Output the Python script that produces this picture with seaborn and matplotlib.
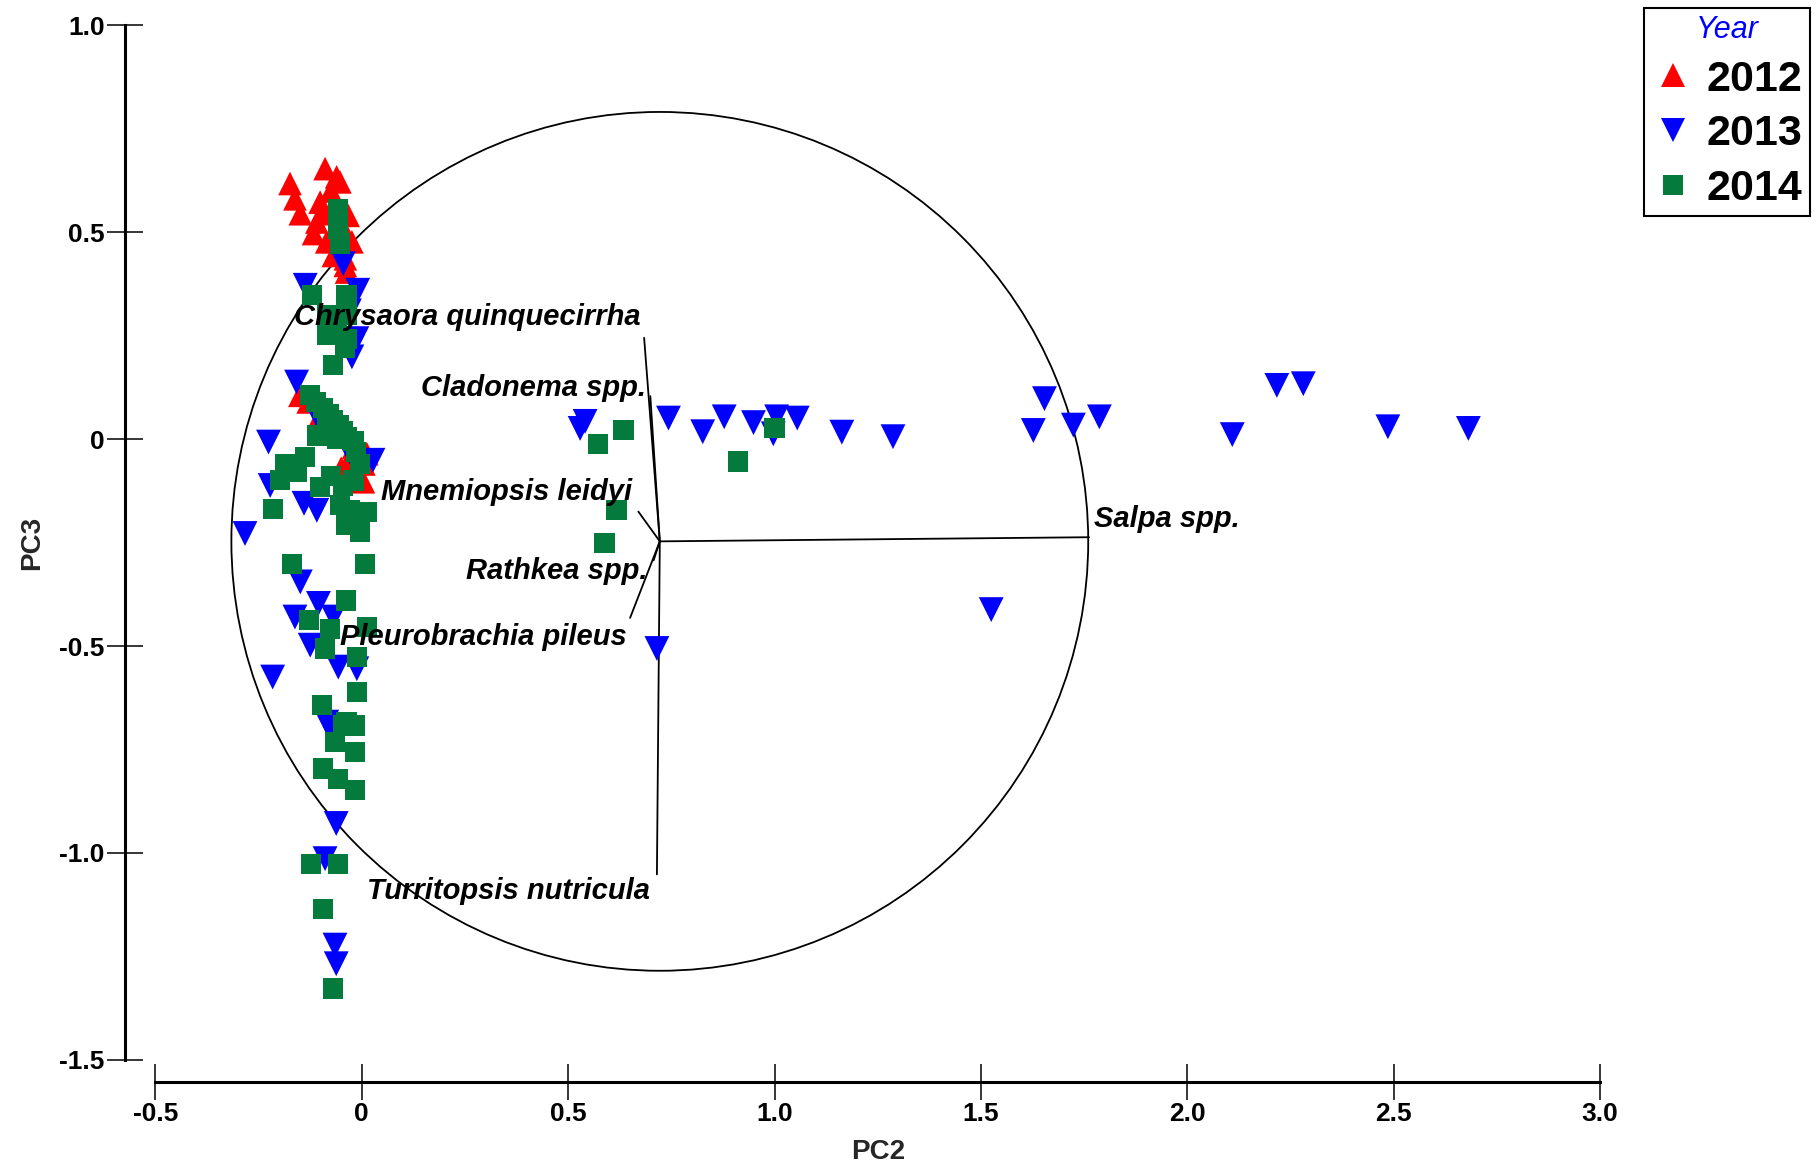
import matplotlib
matplotlib.use("Agg")
import matplotlib.pyplot as plt
from matplotlib.lines import Line2D
from matplotlib.patches import Circle
import pandas as pd
import seaborn as sns

# PCA sample scores (PC2, PC3) by sampling year
pc2_2012 = [-0.174, -0.162, -0.149, -0.089, -0.061, -0.053, -0.101, -0.109, -0.117,
            -0.085, -0.045, -0.033, -0.069, -0.040, -0.037, -0.024, -0.075, -0.095,
            -0.040, -0.150, -0.130, -0.100, -0.070, -0.020, 0.012, 0.004, -0.050,
            -0.030, 0.005]
pc3_2012 = [0.618, 0.581, 0.545, 0.654, 0.634, 0.622, 0.573, 0.525, 0.497,
            0.477, 0.509, 0.541, 0.444, 0.436, 0.404, 0.477, 0.600, 0.545,
            0.420, 0.106, 0.090, 0.060, 0.030, -0.020, -0.035, -0.103, -0.070,
            -0.050, -0.060]

pc2_2013 = [-0.045, -0.137, -0.024, -0.012, -0.158, -0.226, -0.222, -0.109, -0.283,
            -0.149, -0.105, -0.162, -0.069, -0.125, -0.057, -0.012, -0.216, -0.085,
            -0.077, -0.062, -0.089, -0.065, -0.062, -0.010, -0.030, -0.100, -0.030,
            -0.140, 0.027,
            0.529, 0.541, 0.743, 0.826, 0.878, 0.949, 1.005, 0.997, 1.055, 1.163,
            1.287, 1.654, 1.627, 1.724, 1.787, 2.109, 2.217, 2.281, 2.486, 2.681,
            1.525, 0.715]
pc3_2013 = [0.424, 0.372, 0.199, 0.243, 0.138, -0.007, -0.112, -0.172, -0.228,
            -0.345, -0.397, -0.430, -0.430, -0.498, -0.551, -0.555, -0.575, -0.684,
            -0.699, -0.929, -1.014, -1.223, -1.268, 0.360, 0.310, 0.040, -0.030,
            -0.155, -0.051,
            0.026, 0.043, 0.051, 0.018, 0.054, 0.040, 0.054, 0.013, 0.051, 0.017,
            0.006, 0.098, 0.021, 0.034, 0.054, 0.011, 0.130, 0.134, 0.030, 0.026,
            -0.412, -0.506]

pc2_2014 = [-0.057, -0.057, -0.053, -0.121, -0.037, -0.085, -0.037, -0.085, -0.037,
            -0.069, -0.060, -0.040,
            -0.125, -0.110, -0.095, -0.080, -0.070, -0.055, -0.045, -0.035, -0.020,
            -0.085, -0.060, -0.109, -0.045, -0.015,
            -0.186, -0.137, -0.198, -0.216, -0.158, -0.101, -0.045, -0.004, -0.028,
            -0.004, 0.012, -0.037, -0.053, -0.075, -0.020,
            -0.170, 0.008, -0.038, -0.129, -0.077, 0.012, -0.089, -0.012, -0.012,
            -0.097, -0.037, -0.045, -0.016, -0.065, -0.016, -0.093, -0.057, -0.016,
            -0.124, -0.057, -0.095, -0.069,
            0.573, 0.634, 1.000, 0.912, 0.617, 0.588]
pc3_2014 = [0.557, 0.509, 0.473, 0.348, 0.348, 0.300, 0.300, 0.251, 0.243,
            0.179, 0.270, 0.220,
            0.106, 0.090, 0.075, 0.060, 0.045, 0.035, 0.020, 0.005, -0.005,
            0.030, 0.000, 0.009, 0.001, -0.030,
            -0.059, -0.043, -0.099, -0.168, -0.079, -0.115, -0.112, -0.059, -0.172,
            -0.224, -0.176, -0.208, -0.160, -0.090, -0.100,
            -0.301, -0.301, -0.390, -0.438, -0.458, -0.454, -0.506, -0.526, -0.611,
            -0.643, -0.684, -0.692, -0.692, -0.732, -0.756, -0.796, -0.821, -0.849,
            -1.026, -1.026, -1.135, -1.328,
            -0.011, 0.023, 0.027, -0.054, -0.172, -0.251]

years = ["2012", "2013", "2014"]

# Species loadings, drawn as vectors from the centre of the correlation circle
species = ["Chrysaora quinquecirrha", "Cladonema spp.", "Mnemiopsis leidyi",
           "Rathkea spp.", "Pleurobrachia pileus", "Turritopsis nutricula",
           "Salpa spp."]
load_pc2 = [-0.038, -0.023, -0.052, -0.015, -0.072, -0.007, 1.040]
load_pc3 = [0.492, 0.351, 0.072, -0.046, -0.185, -0.805, 0.010]
circle_origin = (0.722, -0.247)
circle_radius = 1.038

x_ticks = [-0.5, 0, 0.5, 1.0, 1.5, 2.0, 2.5, 3.0]
x_ticklabels = ["-0.5", "0", "0.5", "1.0", "1.5", "2.0", "2.5", "3.0"]
y_ticks = [-1.5, -1.0, -0.5, 0, 0.5, 1.0]
y_ticklabels = ["-1.5", "-1.0", "-0.5", "0", "0.5", "1.0"]

# ---- styling ----
palette = {"2012": "#ff0000", "2013": "#0000ff", "2014": "#047a3c"}
markers = {"2012": "^", "2013": "v", "2014": "s"}
sizes = {"2012": 290, "2013": 320, "2014": 210}
legend_ms = {"2012": 17, "2013": 17, "2014": 14}

# label offsets (points) from each vector tip
label_offsets = {
    "Chrysaora quinquecirrha": (-2.5, 15, "right"),
    "Cladonema spp.": (-3.3, 5.8, "right"),
    "Mnemiopsis leidyi": (-4.2, 14.2, "right"),
    "Rathkea spp.": (-4.2, -7.5, "right"),
    "Pleurobrachia pileus": (-2.5, -13.4, "right"),
    "Turritopsis nutricula": (-5.0, -11.7, "right"),
    "Salpa spp.": (3.3, 13.4, "left"),
}

sns.set_theme(style="ticks")
plt.rcParams["font.family"] = ["Liberation Sans", "DejaVu Sans"]
plt.rcParams["font.weight"] = "bold"

scores = pd.concat([
    pd.DataFrame({"PC2": pc2_2012, "PC3": pc3_2012, "Year": "2012"}),
    pd.DataFrame({"PC2": pc2_2013, "PC3": pc3_2013, "Year": "2013"}),
    pd.DataFrame({"PC2": pc2_2014, "PC3": pc3_2014, "Year": "2014"}),
], ignore_index=True)

fig = plt.figure(figsize=(18.18, 11.64), dpi=100)
ax = fig.add_axes([0.0855, 0.0896, 0.7946, 0.8885])

sns.scatterplot(data=scores, x="PC2", y="PC3", hue="Year", style="Year",
                size="Year", palette=palette, markers=markers, sizes=sizes,
                hue_order=years, style_order=years, size_order=years,
                linewidth=0, alpha=1, legend=False, ax=ax, zorder=3)

# correlation circle and species vectors
ax.add_patch(Circle(circle_origin, circle_radius, fill=False, edgecolor="black",
                    linewidth=1.3, zorder=2))
ox, oy = circle_origin
for name, dx, dy in zip(species, load_pc2, load_pc3):
    tx, ty = ox + dx, oy + dy
    ax.plot([ox, tx], [oy, ty], color="black", linewidth=1.3, zorder=2)
    offx, offy, ha = label_offsets[name]
    ax.annotate(name, xy=(tx, ty), xytext=(offx, offy), textcoords="offset points",
                ha=ha, va="center", fontsize=21, fontweight="bold",
                fontstyle="italic", color="black", zorder=4)

ax.set_xlim(-0.5, 3.0)
ax.set_ylim(-1.5, 1.0)
ax.set_xticks(x_ticks)
ax.set_xticklabels(x_ticklabels, fontweight="bold")
ax.set_yticks(y_ticks)
ax.set_yticklabels(y_ticklabels, fontweight="bold")
ax.tick_params(axis="both", direction="inout", length=26, width=1.1,
               color="black", labelsize=19, pad=2, labelcolor="black")

ax.set_xlabel("PC2", fontsize=20, fontweight="bold", labelpad=9)
ax.set_ylabel("PC3", fontsize=20, fontweight="bold", labelpad=10.5)

sns.despine(ax=ax, offset={"left": 21.6, "bottom": 15.8})
for side in ("left", "bottom"):
    ax.spines[side].set_linewidth(2.2)
    ax.spines[side].set_color("black")

handles = [Line2D([], [], linestyle="none", marker=markers[y], color=palette[y],
                  markeredgewidth=0, markersize=legend_ms[y]) for y in years]
leg = fig.legend(handles, years, loc="upper right",
                 bbox_to_anchor=(0.9955, 0.9935), bbox_transform=fig.transFigure,
                 frameon=True, fancybox=False, edgecolor="black", framealpha=1,
                 prop={"size": 31, "weight": "bold"}, title="Year",
                 title_fontproperties={"size": 22, "style": "italic",
                                       "weight": "normal"},
                 handlelength=1.0, handletextpad=0.28, borderpad=0.17,
                 labelspacing=0.34, borderaxespad=0)
leg.get_title().set_color("#0000ff")
leg.get_frame().set_linewidth(1.5)
for txt in leg.get_texts():
    txt.set_color("black")

fig.savefig("out.png", dpi=100, facecolor="white")
